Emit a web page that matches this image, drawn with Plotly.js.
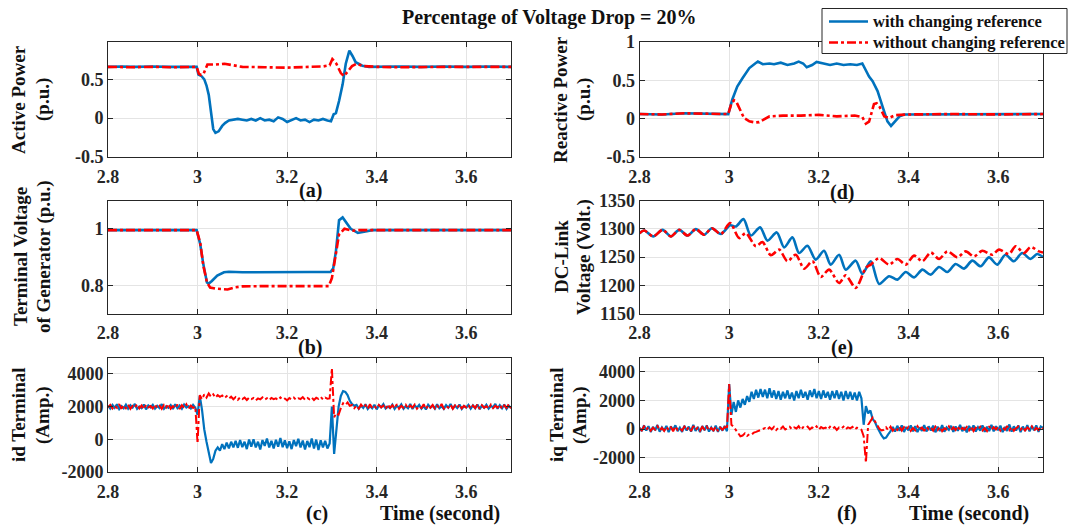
<!DOCTYPE html>
<html><head><meta charset="utf-8">
<script src="https://cdn.plot.ly/plotly-3.0.1.min.js"></script>
<style>html,body{margin:0;padding:0;background:#fff}#chart{width:1070px;height:526px}</style>
</head><body><div id="chart"></div><script>
// ---------- DATA ----------
const seriesNames = ['with changing reference', 'without changing reference'];
const xTickVals = [2.8, 3.0, 3.2, 3.4, 3.6];
const xTickText = ['2.8', '3', '3.2', '3.4', '3.6'];

// (a) Active power (p.u.)
const pW_t = [2.8,2.83,2.86,2.9,2.94,2.97,2.998,3.002,3.009,3.015,3.02,3.025,3.03,3.035,3.04,3.047,3.055,3.062,3.07,3.08,3.09,3.1,3.11,3.12,3.13,3.14,3.15,3.16,3.17,3.18,3.19,3.2,3.21,3.22,3.23,3.24,3.25,3.26,3.27,3.28,3.29,3.298,3.304,3.309,3.316,3.324,3.331,3.339,3.346,3.353,3.368,3.383,3.45,3.5,3.55,3.6,3.65,3.7];
const pW = [0.66,0.665,0.66,0.665,0.66,0.665,0.66,0.56,0.54,0.5,0.42,0.3,0.05,-0.14,-0.19,-0.17,-0.1,-0.06,-0.03,-0.02,-0.01,-0.02,-0.03,-0.01,-0.03,0.0,-0.03,-0.02,-0.04,0.01,-0.01,-0.05,-0.03,0.0,-0.03,-0.02,-0.05,-0.02,-0.03,-0.01,-0.03,-0.04,0.05,0.065,0.22,0.435,0.7,0.87,0.8,0.72,0.675,0.66,0.665,0.66,0.665,0.66,0.665,0.66];
const pWo_t = [2.8,2.85,2.9,2.95,2.998,3.003,3.008,3.013,3.022,3.04,3.06,3.085,3.1,3.15,3.2,3.25,3.28,3.295,3.301,3.31,3.32,3.327,3.335,3.345,3.355,3.37,3.4,3.45,3.55,3.65,3.7];
const pWo = [0.66,0.655,0.66,0.655,0.66,0.57,0.555,0.565,0.69,0.69,0.70,0.67,0.66,0.655,0.65,0.66,0.665,0.68,0.76,0.70,0.58,0.54,0.60,0.67,0.70,0.67,0.66,0.655,0.66,0.655,0.66];

// (d) Reactive power (p.u.)
const qW_t = [2.8,2.85,2.9,2.95,2.998,3.007,3.018,3.03,3.045,3.058,3.064,3.075,3.09,3.1,3.115,3.13,3.145,3.155,3.165,3.173,3.185,3.195,3.21,3.225,3.24,3.255,3.27,3.285,3.297,3.305,3.312,3.32,3.331,3.342,3.353,3.361,3.37,3.38,3.39,3.45,3.55,3.65,3.7];
const qW = [0.06,0.055,0.07,0.06,0.06,0.25,0.42,0.53,0.66,0.72,0.745,0.71,0.72,0.71,0.73,0.70,0.72,0.745,0.72,0.67,0.70,0.74,0.72,0.70,0.72,0.70,0.71,0.70,0.72,0.62,0.55,0.49,0.36,0.16,-0.035,-0.095,-0.04,0.03,0.055,0.055,0.06,0.055,0.06];
const qWo_t = [2.8,2.85,2.9,2.95,2.998,3.005,3.011,3.016,3.022,3.033,3.045,3.058,3.067,3.08,3.09,3.12,3.16,3.2,3.24,3.28,3.297,3.305,3.312,3.323,3.329,3.335,3.346,3.357,3.37,3.4,3.5,3.6,3.7];
const qWo = [0.06,0.055,0.07,0.06,0.06,0.2,0.24,0.22,0.14,0.01,-0.035,-0.05,-0.045,0.0,0.03,0.04,0.04,0.05,0.03,0.04,0.02,-0.065,-0.04,0.19,0.2,0.16,0.03,0.01,0.045,0.055,0.06,0.055,0.06];

// (b) Terminal voltage of generator (p.u.)
const vW_t = [2.8,2.9,2.998,3.006,3.013,3.021,3.025,3.032,3.044,3.059,3.07,3.1,3.15,3.2,3.25,3.297,3.303,3.309,3.316,3.324,3.331,3.342,3.358,3.372,3.39,3.5,3.6,3.7];
const vW = [0.995,0.995,0.995,0.945,0.873,0.81,0.806,0.815,0.834,0.846,0.848,0.846,0.847,0.846,0.847,0.847,0.86,0.92,1.03,1.04,1.024,1.0,0.985,0.99,0.995,0.995,0.995,0.995];
const vWo_t = [2.8,2.9,2.998,3.006,3.013,3.021,3.028,3.04,3.067,3.085,3.1,3.15,3.2,3.25,3.293,3.3,3.309,3.316,3.328,3.345,3.36,3.4,3.5,3.6,3.7];
const vWo = [0.995,0.995,0.995,0.95,0.868,0.81,0.792,0.788,0.785,0.793,0.796,0.797,0.797,0.796,0.797,0.825,0.92,0.98,1.0,0.993,0.995,0.995,0.995,0.995,0.995];

// (e) DC-link voltage (Volt.)
const dcWo_t = [2.8,2.8104,2.8307,2.8515,2.870,2.8886,2.9072,2.9257,2.9443,2.9614,2.9814,3.0022,3.0223,3.0372,3.0594,3.0743,3.0929,3.1115,3.130,3.1486,3.1672,3.1858,3.2043,3.2229,3.2452,3.260,3.2823,3.3046,3.3158,3.3344,3.3567,3.3752,3.3938,3.4124,3.431,3.4495,3.4681,3.4867,3.509,3.5275,3.5461,3.5647,3.587,3.6018,3.6241,3.639,3.6576,3.6724,3.691,3.7];
const dcWo = [1292,1297,1286.5,1298,1286.5,1298,1288,1299.4,1289.4,1301,1290.6,1310,1283.5,1292.4,1269,1276.5,1253,1263,1242.4,1254,1229.4,1242.4,1214.7,1227.6,1204,1217.6,1195.3,1230.6,1236.5,1248,1236.5,1246.5,1236.5,1252.4,1242.4,1258,1246.5,1260,1249.4,1260,1251,1261,1254,1263,1255.3,1269,1257,1267.6,1260,1258];
const dcW_t = [2.8,2.8104,2.8307,2.8515,2.870,2.8886,2.9072,2.9257,2.9443,2.9614,2.9814,3.0022,3.0149,3.032,3.0483,3.0691,3.0854,3.1062,3.1226,3.1411,3.156,3.1745,3.1931,3.2116,3.2265,3.2452,3.260,3.2823,3.297,3.3158,3.3344,3.3567,3.3752,3.3938,3.4124,3.431,3.4495,3.4681,3.4867,3.5052,3.5238,3.5423,3.5609,3.5795,3.5978,3.6163,3.6349,3.6535,3.6724,3.6869,3.7];
const dcW = [1292,1297,1286.5,1298,1286.5,1298,1288,1299.4,1289.4,1301,1290.6,1306,1304,1317,1288,1302.4,1279,1293.5,1267,1284.7,1257,1270,1245.3,1261,1236.5,1254,1227.6,1243.5,1220,1242.4,1202.4,1216,1210,1223.5,1214,1227.6,1218.8,1232.4,1223.5,1237.6,1229.4,1243.5,1233.5,1249.4,1236.5,1254,1242.4,1257,1246.5,1255.3,1250];

// (c),(f) currents sampled every 0.005 s from 2.8 s
const sampleStart = 2.8, sampleStep = 0.005;
const idW = [
2050,1880,2100,1920,2140,1850,2030,1900,2120,1870,
2080,1940,2160,1860,2010,1900,2130,1830,2070,1950,
2110,1880,2040,1910,2150,1860,2020,1930,2090,1850,
2140,1900,2060,1870,2120,1940,2030,1880,2100,1920,
1500,2650,1800,600,-150,-900,-1450,-1200,-700,-500,
-700,-300,-600,-200,-550,-150,-500,-100,-520,-50,
-480,-150,-600,-20,-450,0,-500,-150,-620,-50,
-400,50,-500,-100,-560,-30,-450,80,-480,-60,
-550,-120,-600,-50,-420,30,-500,-80,-620,-100,
-480,50,-560,-20,-650,-60,-500,-100,-560,-250,
2000,-900,400,2000,2650,2950,2900,2700,2350,2150,
2050,2100,1870,2060,1920,2140,1850,2020,1900,2110,
1830,2080,1950,2150,1880,2000,1910,2120,1860,2050,
1940,2130,1870,2030,1900,2160,1850,2070,1930,2100,
1880,2040,1820,2110,1940,2060,1870,2140,1900,2020,
1860,2090,1930,2150,1880,2050,1910,2120,1850,2030,
1940,2100,1870,2070,1900,2130,1840,2060,1920,2110,
1880,2040,1950,2160,1870,2080,1900,2120,1860,2050,
1910];
const idWo = [
1950,2100,1880,2060,1920,2150,1870,2080,1900,2120,
1860,2040,1930,2140,1890,2070,1840,2110,1950,2030,
1880,2130,1910,2050,1860,2100,1940,2160,1870,2020,
1900,2120,1850,2080,1930,2140,1880,2060,1910,2000,
-250,2700,2450,2750,2550,2800,2600,2750,2550,2700,
2600,2680,2520,2640,2480,2600,2450,2580,2420,2560,
2460,2550,2400,2540,2450,2520,2380,2500,2440,2560,
2420,2510,2390,2530,2450,2500,2400,2560,2430,2490,
2380,2520,2440,2550,2410,2500,2460,2580,2420,2530,
2450,2560,2400,2540,2470,2590,2430,2550,2480,2500,
4350,1350,1600,1500,1900,2200,2100,2250,2050,2100,
1900,2060,1870,2120,1940,2080,1860,2140,1910,2030,
1880,2100,1950,2050,1850,2130,1920,2070,1890,2150,
1860,2040,1930,2110,1880,2060,1940,2120,1870,2020,
1910,2140,1850,2080,1930,2100,1880,2050,1900,2160,
1870,2030,1940,2110,1860,2070,1920,2130,1890,2040,
1950,2100,1880,2060,1910,2150,1860,2080,1930,2020,
1870,2120,1900,2050,1940,2110,1860,2070,1920,2140,
1900];
const iqW = [
100,-150,250,-100,200,-200,150,-80,280,-180,
120,-120,220,-220,180,-60,260,-150,90,-200,
230,-100,170,-180,300,-130,140,-210,210,-90,
250,-170,110,-140,240,-200,160,-110,220,-150,
3150,1000,1900,1200,2000,1500,2100,1700,2300,1900,
2600,2100,2750,2200,2800,2250,2750,2150,2850,2200,
2700,2100,2650,2050,2600,2150,2700,2100,2550,2000,
2650,2150,2750,2200,2600,2050,2700,2250,2800,2150,
2650,2100,2700,2200,2600,2050,2650,2150,2700,2100,
2600,2000,2650,2100,2600,2050,2550,2000,2600,2150,
300,1600,1100,1300,700,500,150,-200,-450,-650,
-600,-350,-150,150,-180,230,-120,260,-200,140,
-90,250,-160,200,-210,120,-130,280,-170,190,
-100,240,-220,160,-140,270,-180,110,-60,230,
-200,180,-120,300,-150,140,-230,220,-90,260,
-170,130,-110,250,-200,170,-140,290,-160,200,
-80,240,-210,150,-130,320,-180,190,-100,260,
-220,170,-120,280,-160,210,-90,250,-190,180,
100];
const iqWo = [
50,-100,180,-60,140,-120,100,-40,200,-90,
80,-130,160,-70,120,-150,190,-50,60,-110,
170,-80,130,-140,210,-60,90,-120,150,-30,
180,-100,70,-90,160,-140,110,-50,140,-20,
3150,300,150,-50,-300,-500,-450,-300,-480,-350,
-380,-250,-200,-120,-60,20,70,-40,120,-20,
150,-60,100,20,180,-30,90,160,-10,120,
40,200,-50,130,60,170,-20,110,30,190,
-40,140,50,100,-30,160,20,130,-60,110,
40,170,-20,120,50,150,-30,90,20,-50,
-500,-2350,300,600,800,550,250,20,-100,-50,
120,-80,160,-120,90,-60,180,-100,130,-40,
150,-130,70,-90,200,-50,110,-140,160,-20,
90,-110,170,-70,140,-150,60,-30,190,-100,
120,-60,210,-120,80,-40,150,-90,180,-130,
100,-20,160,-100,70,-140,200,-60,130,-30,
170,-110,90,-50,220,-80,140,-120,60,180,
-40,150,-100,110,-20,190,-130,80,-60,160,
50];

// ---------- LAYOUT / STYLE ----------
const W = 1070, H = 526;
const FONT = '"Liberation Serif","Times New Roman",serif';
const TXT = '#262626';
const BLUE = '#0072BD', RED = '#FF0000';
const fx = p => p / W;
const fy = p => 1 - p / H;
const sampleTimes = arr => arr.map((_, i) => +(sampleStart + i * sampleStep).toFixed(4));

const colL = [fx(108), fx(511)], colR = [fx(639.5), fx(1043)];
const row1 = [fy(157), fy(42)], row2 = [fy(313.5), fy(200.5)], row3 = [fy(472), fy(357.5)];

const panels = [
  {dx: colL, dy: row1, yr: [-0.5, 0.98], yt: [-0.5, 0, 0.5], yl: ['-0.5', '0', '0.5'], b: [pW_t, pW], r: [pWo_t, pWo], shape: 'linear'},
  {dx: colR, dy: row1, yr: [-0.5, 1], yt: [-0.5, 0, 0.5, 1], yl: ['-0.5', '0', '0.5', '1'], b: [qW_t, qW], r: [qWo_t, qWo], shape: 'linear'},
  {dx: colL, dy: row2, yr: [0.7, 1.1], yt: [0.8, 1], yl: ['0.8', '1'], b: [vW_t, vW], r: [vWo_t, vWo], shape: 'linear'},
  {dx: colR, dy: row2, yr: [1150, 1350], yt: [1150, 1200, 1250, 1300, 1350], yl: ['1150', '1200', '1250', '1300', '1350'], b: [dcW_t, dcW], r: [dcWo_t, dcWo], shape: 'spline'},
  {dx: colL, dy: row3, yr: [-2000, 5000], yt: [-2000, 0, 2000, 4000], yl: ['-2000', '0', '2000', '4000'], b: [sampleTimes(idW), idW], r: [sampleTimes(idWo), idWo], shape: 'linear', noisy: true},
  {dx: colR, dy: row3, yr: [-3000, 5000], yt: [-2000, 0, 2000, 4000], yl: ['-2000', '0', '2000', '4000'], b: [sampleTimes(iqW), iqW], r: [sampleTimes(iqWo), iqWo], shape: 'linear', noisy: true}
];

const tickFont = {family: FONT, size: 18, color: TXT, weight: 'bold'};
const axisBase = {
  showline: true, mirror: 'ticks', linecolor: TXT, linewidth: 1,
  ticks: 'inside', ticklen: 5, tickcolor: TXT, tickwidth: 1,
  showgrid: true, gridcolor: '#e4e4e4', gridwidth: 1, zeroline: false,
  tickfont: tickFont, fixedrange: true
};

const data = [];
const layout = {
  width: W, height: H, margin: {l: 0, r: 0, t: 0, b: 0},
  paper_bgcolor: '#fff', plot_bgcolor: '#fff',
  font: {family: FONT, color: TXT, size: 18, weight: 'bold'},
  showlegend: false,
  annotations: [],
  shapes: []
};

panels.forEach((p, i) => {
  const n = i + 1;
  const xk = n === 1 ? 'x' : 'x' + n, yk = n === 1 ? 'y' : 'y' + n;
  layout[n === 1 ? 'xaxis' : 'xaxis' + n] = Object.assign({}, axisBase, {
    domain: p.dx, anchor: yk, range: [2.8, 3.7], tickvals: xTickVals, ticktext: xTickText,
    ticklabelstandoff: 3
  });
  layout[n === 1 ? 'yaxis' : 'yaxis' + n] = Object.assign({}, axisBase, {
    domain: p.dy, anchor: xk, range: p.yr, tickvals: p.yt, ticktext: p.yl
  });
  data.push({
    x: p.b[0], y: p.b[1], xaxis: xk, yaxis: yk, type: 'scatter', mode: 'lines',
    name: seriesNames[0], showlegend: false,
    line: {color: BLUE, width: p.noisy ? 2.2 : 2.6, shape: p.shape, smoothing: 0.8}
  });
  data.push({
    x: p.r[0], y: p.r[1], xaxis: xk, yaxis: yk, type: 'scatter', mode: 'lines',
    name: seriesNames[1], showlegend: false,
    line: {color: RED, width: p.noisy ? 2.0 : 2.6, dash: 'dashdot', shape: p.shape, smoothing: 0.8}
  });
});

function txt(text, x, y, size, angle, anchor) {
  layout.annotations.push({
    text: text, xref: 'paper', yref: 'paper', x: fx(x), y: fy(y),
    xanchor: anchor || 'center', yanchor: 'middle', showarrow: false, textangle: angle || 0,
    font: {family: FONT, size: size, color: '#111', weight: 'bold'}
  });
}
// title
txt('Percentage of Voltage Drop = 20%', 550, 17, 20);
// panel labels
txt('(a)', 310, 191, 20); txt('(d)', 842, 192, 20);
txt('(b)', 310, 347, 20); txt('(e)', 842, 347, 20);
txt('(c)', 317, 513, 20); txt('(f)', 847, 513, 20);
txt('Time (second)', 440, 513, 20); txt('Time (second)', 969, 513, 20);
// y-axis titles
txt('Active Power', 19, 100, 19, -90); txt('(p.u.)', 43, 100, 19, -90);
txt('Terminal Voltage', 20, 257, 19, -90); txt('of Generator (p.u.)', 44, 257, 19, -90);
txt('id Terminal', 18, 415, 19, -90); txt('(Amp.)', 43, 415, 19, -90);
txt('Reactive Power', 561, 100, 19, -90); txt('(p.u.)', 584, 100, 19, -90);
txt('DC-Link', 561, 257, 19, -90); txt('Voltage (Volt.)', 584, 257, 19, -90);
txt('iq Terminal', 556, 415, 19, -90); txt('(Amp.)', 580, 415, 19, -90);

// legend box (drawn as shapes + text so its size matches the reference)
const legendRows = [
  {name: seriesNames[0], color: BLUE, dash: 'solid', y: 21.5},
  {name: seriesNames[1], color: RED, dash: 'dashdot', y: 42.5}
];
layout.shapes.push({type: 'rect', xref: 'paper', yref: 'paper', x0: fx(822), x1: fx(1067), y0: fy(53.5), y1: fy(8.5),
  line: {color: TXT, width: 1}, fillcolor: '#fff', layer: 'above'});
legendRows.forEach(r => {
  layout.shapes.push({type: 'line', xref: 'paper', yref: 'paper', x0: fx(829), x1: fx(868), y0: fy(r.y), y1: fy(r.y),
    line: {color: r.color, width: 2.6, dash: r.dash}, layer: 'above'});
  txt(r.name, 871, r.y, 16.5, 0, 'left');
});

Plotly.newPlot('chart', data, layout, {displayModeBar: false, staticPlot: true});
</script></body></html>
